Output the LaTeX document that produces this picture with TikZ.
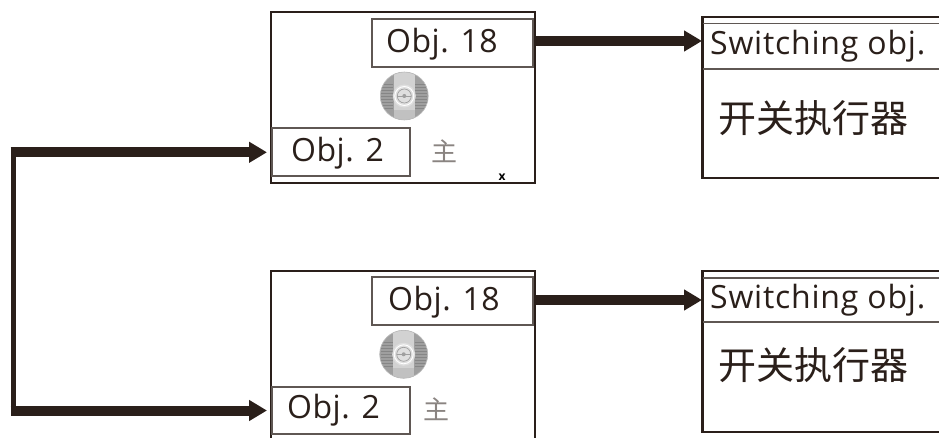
\documentclass[tikz,border=0pt]{standalone}
\usepackage{fontspec}
\setmainfont{Open Sans}
\newfontfamily\cjk{Noto Sans CJK SC}
\usetikzlibrary{arrows.meta}
\definecolor{ink}{HTML}{2A1F1A}
\tikzset{x=1pt,y=-1pt,
 outerbox/.style={draw=ink,line width=2.5pt,outer sep=0pt},
 innerbox/.style={draw=ink!75,line width=1.2pt,fill=white,outer sep=0pt},
 thinrule/.style={draw=ink!75,line width=1.2pt},
 objtext/.style={font=\fontsize{32}{36}\selectfont\addfontfeature{LetterSpace=1.5},text=ink,inner sep=0pt,anchor=base west},
 swtext/.style={font=\fontsize{32}{36}\selectfont\addfontfeature{LetterSpace=2.4},text=ink,inner sep=0pt,anchor=base west},
 cntext/.style={font=\cjk\fontsize{38}{42}\selectfont,text=ink,inner sep=0pt,anchor=base west},
 zhu/.style={font=\cjk\fontsize{26}{30}\selectfont,text=ink!55,inner sep=0pt},
 flow/.style={draw=ink,line width=10pt,-{Triangle[length=18pt,width=20pt]}},
 spine/.style={draw=ink,line width=5.5pt},
}
\newcommand{\dial}[3]{%
 \begin{scope}
 \clip (#1,#2) circle[radius=24];
 \fill[gray!75] (#1,#2) circle[radius=24];
 \fill[gray!35] (#1-10.5,#2-24) rectangle (#1+10.5,#2+24);
 \fill[gray!60,opacity=.5] (#1-10.5,#2+14) rectangle (#1+10.5,#2+24);
 \foreach \d in {-12,-9,-6,-3,0,3,6,9,12}{
  \draw[gray!95,line width=.4pt] (#1-23,#2+\d) -- (#1-11,#2+\d) (#1+11,#2+\d) -- (#1+23,#2+\d);}
 \end{scope}
 \node[circle,draw=gray!55,line width=.6pt,minimum size=48pt,inner sep=0pt,outer sep=0pt] (#3) at (#1,#2) {};
 \fill[gray!25] (#1,#2) circle[radius=11.5];
 \draw[white,line width=.9pt] (#1,#2) circle[radius=9.5];
 \draw[gray!75,line width=.7pt] (#1,#2) circle[radius=7];
 \fill[gray!75] (#1,#2) circle[radius=2];
 \draw[gray!75,line width=.5pt] (#1-7,#2) -- (#1+7,#2);
}
\begin{document}
\begin{tikzpicture}
\useasboundingbox (0,0) rectangle (939,438);
\fill[white] (0,0) rectangle (939,438);
% top left unit
\node[outerbox,minimum width=264pt,minimum height=171pt,inner sep=0pt,anchor=north west] (u1) at (271,12) {};
\node[innerbox,minimum width=161pt,minimum height=48pt,inner sep=0pt,anchor=north west] (a1) at (372,19) {};
\node[objtext] (at1) at (386,53) {Obj. 18};
\node[innerbox,minimum width=138pt,minimum height=48pt,inner sep=0pt,anchor=north west] (b1) at (272,128) {};
\node[objtext] (bt1) at (291,162) {Obj. 2};
\node[zhu] (z1) at (444,151) {主};
\dial{404.3}{96}{d1}
\node[font=\bfseries\fontsize{12}{12}\selectfont,text=black,inner sep=0pt] (x1) at (502,177) {x};
% bottom left unit
\draw[outerbox] (271,438) -- (271,271) -- (535,271) -- (535,438);
\node[innerbox,minimum width=161pt,minimum height=48pt,inner sep=0pt,anchor=north west] (a2) at (372,277) {};
\node[objtext] (at2) at (388,310) {Obj. 18};
\node[innerbox,minimum width=138pt,minimum height=47pt,inner sep=0pt,anchor=north west] (b2) at (272,387) {};
\node[objtext] (bt2) at (287,418) {Obj. 2};
\node[zhu] (z2) at (436.5,409) {主};
\dial{403.7}{354.3}{d2}
% right units
\draw[outerbox] (939,17) -- (702.7,17) -- (702.7,178) -- (939,178);
\draw[thinrule] (702.7,23.5) -- (939,23.5) (702.7,69) -- (939,69);
\node[swtext] (s1) at (710,55) {Switching obj.};
\node[cntext] (c1) at (718,133) {开关执行器};
\draw[outerbox] (939,271) -- (702.7,271) -- (702.7,432) -- (939,432);
\draw[thinrule] (702.7,278) -- (939,278) (702.7,322) -- (939,322);
\node[swtext] (s2) at (710,308) {Switching obj.};
\node[cntext] (c2) at (718,379) {开关执行器};
% connector ends
\coordinate (r1) at (702,41);
\coordinate (r2) at (702,300);
\coordinate (u1e) at (536,41);
\coordinate (u2e) at (536,300);
\coordinate (t1) at (267,152.3);
\coordinate (t2) at (267,410.5);
\coordinate (j1) at (10.7,152.3);
\coordinate (j2) at (10.7,410.5);
\coordinate (v1) at (13.4,150);
\coordinate (v2) at (13.4,412);
% connectors
\draw[flow] (u1e) -- (r1);
\draw[flow] (u2e) -- (r2);
\draw[spine] (v1) -- (v2);
\draw[flow] (j1) -- (t1);
\draw[flow] (j2) -- (t2);
\end{tikzpicture}
\end{document}
